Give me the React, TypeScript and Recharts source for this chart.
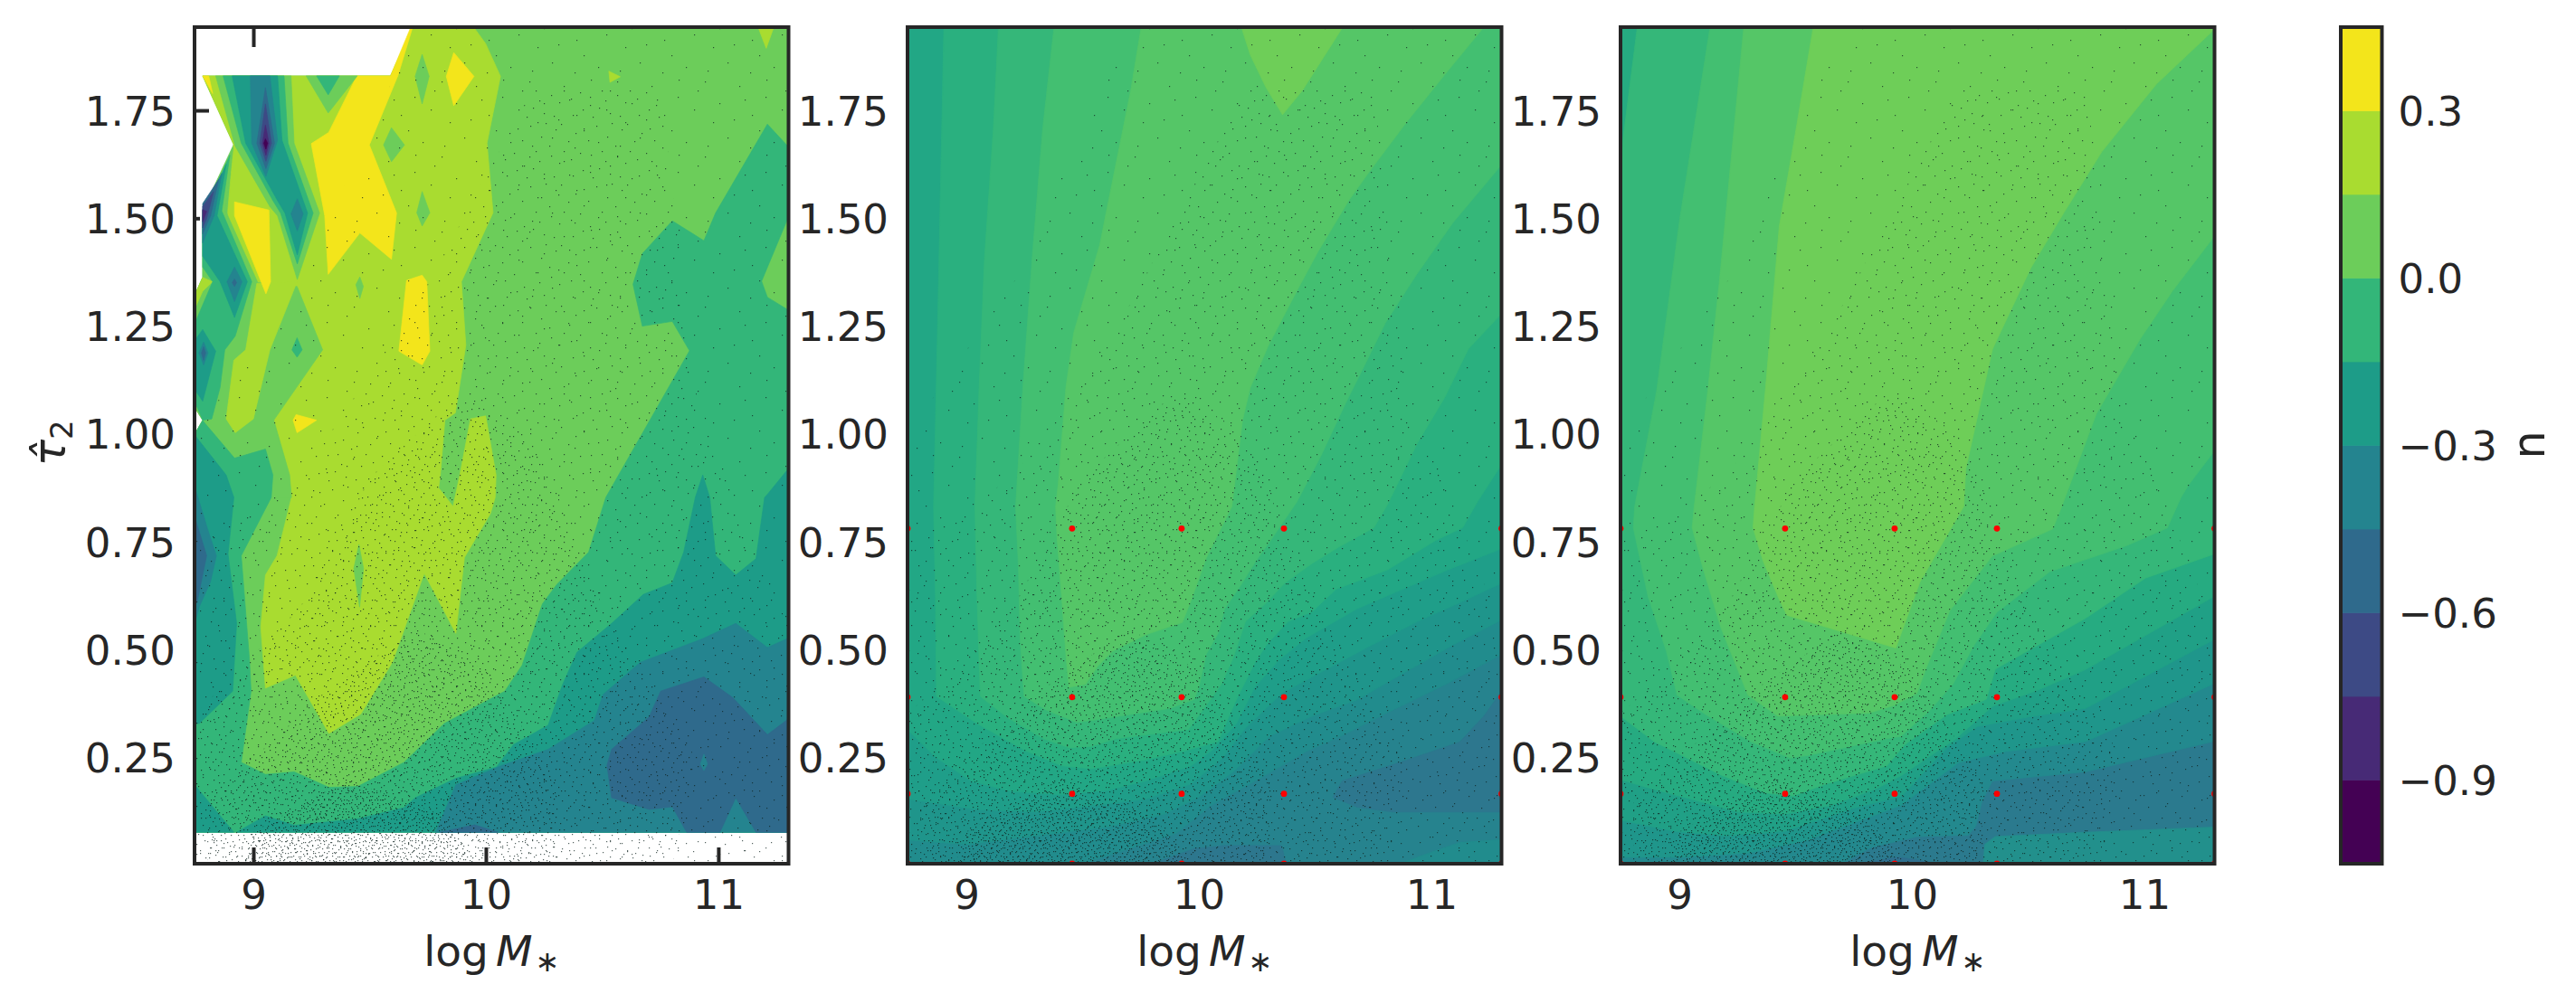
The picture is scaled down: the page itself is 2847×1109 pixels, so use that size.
import React from "react";
import { ScatterChart, Scatter, XAxis, YAxis, Polygon } from "recharts";

type Pt = [number, number];
type Layer = [Pt[], string];

const X_MIN = 8.745;
const X_MAX = 11.3;
const Y_MIN = 0.005;
const Y_MAX = 1.944;
const xTicks = [9, 10, 11];
const yTicks = [0.25, 0.5, 0.75, 1, 1.25, 1.5, 1.75];
const barTicks = [-0.9, -0.6, -0.3, 0, 0.3];
const barLevels = [-1.05, -0.9, -0.75, -0.6, -0.45, -0.3, -0.15, 0, 0.15, 0.3, 0.45];

// colorbar bins, dark to light
const V = ["#440154", "#472a76", "#3d4a85", "#2f6a8c", "#24848f", "#1d9c88", "#33b679", "#6ccd5a", "#a9dc30", "#f3e51b"];
// finer bins used by the two model panels, light to dark
const C = ["#6ece58", "#55c667", "#43bf71", "#35b779", "#2ab07f", "#22a785", "#1f9e89", "#1f958b", "#218c8d", "#26838e", "#2d778e"];

const redX = [8.745, 9.453, 9.924, 10.364, 11.3];
const redY = [0.005, 0.167, 0.391, 0.782, 1.95];

// ---- left panel contours (log M, tau) ----
const p1Base: Pt[] = [[9.679,1.94],[11.3,1.944],[11.3,0.078],[8.745,0.078],[8.745,1.0],[8.78,1.033],[8.745,1.063],[8.745,1.322],[8.78,1.364],[8.78,1.518],[8.913,1.672],[8.78,1.831],[9.588,1.831]];
const p1Lime: Pt[] = [[9.681,1.94],[9.951,1.94],[9.997,1.906],[10.061,1.83],[10.003,1.675],[10.029,1.514],[9.893,1.354],[9.912,1.207],[9.867,1.05],[9.822,1.033],[9.802,0.906],[9.795,0.876],[9.857,0.833],[9.886,0.906],[9.932,1.036],[9.997,1.043],[10.042,0.906],[10.038,0.854],[10.018,0.817],[9.906,0.715],[9.869,0.539],[9.733,0.678],[9.596,0.472],[9.46,0.352],[9.323,0.307],[9.179,0.442],[9.05,0.412],[9.03,0.554],[9.05,0.674],[9.1,0.719],[9.162,0.854],[9.154,0.906],[9.086,1.033],[8.888,1.018],[8.888,1.518],[8.913,1.672],[8.78,1.831],[9.588,1.831]];
const p1Left: Pt[] = [[8.911,1.665],[8.879,1.518],[9.017,1.352],[9.186,1.343],[9.296,1.196],[9.086,1.033],[9.154,0.906],[9.162,0.854],[8.745,0.854],[8.745,1.0],[8.78,1.033],[8.745,1.063],[8.745,1.322],[8.78,1.364],[8.78,1.518]];
const p1Strip: Pt[] = [[9.013,1.35],[9.186,1.354],[9.069,1.196],[8.998,1.036],[8.92,1.004],[8.881,1.036],[8.914,1.172],[8.965,1.196]];
const p1Wedge: Pt[] = [[8.78,1.364],[8.823,1.354],[8.78,1.332],[8.745,1.29],[8.745,1.322]];
const p1LowG: Pt[] = [[8.78,1.032],[8.917,0.945],[9.05,0.966],[9.082,0.906],[9.075,0.854],[8.946,0.719],[8.981,0.48],[8.988,0.405],[8.946,0.24],[9.05,0.212],[9.174,0.218],[9.323,0.182],[9.447,0.184],[9.646,0.24],[9.819,0.33],[10.08,0.405],[10.154,0.465],[10.241,0.607],[10.303,0.652],[10.44,0.727],[10.514,0.854],[10.874,1.194],[10.8,1.262],[10.671,1.251],[10.631,1.348],[10.671,1.419],[10.8,1.495],[10.936,1.449],[10.986,1.513],[11.209,1.719],[11.3,1.666],[11.3,1.505],[11.184,1.355],[11.209,1.318],[11.3,1.288],[11.3,0.078],[8.745,0.078],[8.745,1.0]];
const p1LowT: Pt[] = [[10.931,0.906],[10.899,0.854],[10.849,0.727],[10.8,0.656],[10.675,0.629],[10.539,0.562],[10.39,0.495],[10.328,0.42],[10.266,0.326],[10.117,0.281],[10.043,0.229],[9.869,0.203],[9.695,0.158],[9.646,0.135],[9.447,0.109],[9.174,0.094],[9.05,0.116],[8.926,0.078],[11.3,0.078],[11.3,0.921],[11.209,0.861],[11.197,0.854],[11.16,0.712],[11.073,0.674],[10.986,0.719],[10.961,0.854]];
const p1Corner: Pt[] = [[8.745,0.188],[8.914,0.078],[8.745,0.078]];
const p1EdgeT: Pt[] = [[8.745,0.999],[8.881,0.906],[8.914,0.854],[8.889,0.723],[8.926,0.562],[8.909,0.405],[8.765,0.33],[8.745,0.33]];
const p1EdgeB: Pt[] = [[8.745,0.88],[8.802,0.779],[8.839,0.719],[8.814,0.659],[8.765,0.6],[8.745,0.56]];
const p1EdgeN: Pt[] = [[8.745,0.81],[8.797,0.719],[8.757,0.614],[8.745,0.6]];
const p1RightB: Pt[] = [[11.3,0.528],[11.209,0.506],[11.073,0.562],[10.924,0.525],[10.663,0.472],[10.502,0.397],[10.465,0.337],[10.266,0.27],[10.068,0.233],[9.869,0.188],[9.782,0.078],[11.3,0.078]];
const p1RightN: Pt[] = [[11.3,0.341],[11.209,0.304],[11.06,0.39],[10.936,0.438],[10.75,0.405],[10.7,0.345],[10.539,0.27],[10.519,0.233],[10.539,0.158],[10.7,0.131],[10.8,0.137],[10.862,0.078],[11.005,0.078],[11.073,0.158],[11.16,0.078],[11.3,0.078]];
const p1Nick: Pt[] = [[10.936,0.259],[10.951,0.236],[10.936,0.221],[10.921,0.236]];
const p1Foot: Pt[] = [[9.8,0.078],[9.95,0.095],[10.05,0.078]];
const p1Sliver: Pt[] = [[9.452,0.745],[9.472,0.689],[9.455,0.6],[9.43,0.689]];
const p1TipA: Pt[] = [[11.172,1.94],[11.234,1.94],[11.204,1.895]];
const p1TipB: Pt[] = [[10.527,1.842],[10.576,1.829],[10.532,1.816]];
const p1D1: Pt[] = [[9.724,1.881],[9.754,1.83],[9.724,1.766],[9.694,1.83]];
const p1D2: Pt[] = [[9.592,1.711],[9.648,1.671],[9.592,1.632],[9.558,1.671]];
const p1D3: Pt[] = [[9.724,1.563],[9.757,1.514],[9.724,1.483],[9.701,1.514]];
const p1D4: Pt[] = [[9.456,1.365],[9.471,1.343],[9.456,1.315],[9.439,1.347]];
const p1D5: Pt[] = [[9.186,1.224],[9.208,1.196],[9.186,1.179],[9.164,1.196]];
const p1Y1: Pt[] = [[9.443,1.831],[9.588,1.831],[9.672,1.94],[9.681,1.94],[9.62,1.832],[9.497,1.671],[9.614,1.513],[9.592,1.406],[9.456,1.467],[9.32,1.371],[9.305,1.507],[9.247,1.674],[9.322,1.7]];
const p1Y2: Pt[] = [[8.917,1.539],[9.065,1.52],[9.072,1.354],[9.052,1.326],[8.917,1.507]];
const p1Y3: Pt[] = [[9.86,1.885],[9.947,1.83],[9.86,1.762],[9.828,1.83]];
const p1Y4: Pt[] = [[9.657,1.357],[9.724,1.369],[9.744,1.354],[9.757,1.193],[9.724,1.161],[9.624,1.193]];
const p1Y5: Pt[] = [[9.182,1.046],[9.27,1.033],[9.186,1.004],[9.169,1.033]];
const p1Y6: Pt[] = [[8.78,1.831],[8.806,1.831],[8.823,1.79]];
const p1T7: Pt[] = [[8.836,1.831],[9.16,1.831],[9.173,1.675],[9.283,1.513],[9.187,1.359],[9.102,1.507],[9.069,1.528],[8.92,1.668]];
const p1T6: Pt[] = [[8.868,1.831],[9.13,1.831],[9.147,1.675],[9.255,1.513],[9.187,1.395],[9.115,1.513],[9.082,1.542],[8.946,1.675]];
const p1T5: Pt[] = [[8.907,1.831],[9.102,1.831],[9.121,1.682],[9.231,1.513],[9.187,1.416],[9.134,1.513],[9.102,1.542],[8.965,1.675]];
const p1T4: Pt[] = [[8.985,1.831],[9.069,1.831],[9.102,1.682],[9.052,1.598],[8.991,1.675]];
const p1T3: Pt[] = [[9.05,1.804],[9.089,1.675],[9.052,1.616],[9.013,1.675]];
const p1T2: Pt[] = [[9.05,1.766],[9.076,1.675],[9.052,1.633],[9.026,1.675]];
const p1T1: Pt[] = [[9.05,1.717],[9.065,1.675],[9.052,1.647],[9.037,1.675]];
const p1T0: Pt[] = [[9.05,1.685],[9.059,1.675],[9.052,1.661],[9.043,1.675]];
const p1T4b: Pt[] = [[9.187,1.546],[9.212,1.511],[9.187,1.472],[9.16,1.511]];
const p1W7: Pt[] = [[9.225,1.831],[9.445,1.831],[9.32,1.745]];
const p1W6: Pt[] = [[9.27,1.831],[9.368,1.831],[9.32,1.787]];
const p1S6: Pt[] = [[8.897,1.647],[8.862,1.518],[8.991,1.354],[8.92,1.228],[8.875,1.196],[8.855,1.109],[8.819,1.036],[8.78,1.033],[8.745,1.077],[8.745,1.256],[8.823,1.354],[8.78,1.388],[8.78,1.507]];
const p1S5: Pt[] = [[8.881,1.626],[8.842,1.507],[8.972,1.354],[8.917,1.271],[8.855,1.354],[8.78,1.413],[8.78,1.493]];
const p1S4: Pt[] = [[8.862,1.605],[8.829,1.507],[8.78,1.444],[8.78,1.521]];
const p1S3: Pt[] = [[8.849,1.591],[8.814,1.507],[8.78,1.465],[8.78,1.535]];
const p1S2: Pt[] = [[8.827,1.563],[8.797,1.5],[8.78,1.479],[8.78,1.528]];
const p1S1: Pt[] = [[8.78,1.521],[8.797,1.517],[8.78,1.493]];
const p1Da4: Pt[] = [[8.917,1.388],[8.949,1.354],[8.917,1.308],[8.885,1.354]];
const p1Da3: Pt[] = [[8.917,1.36],[8.926,1.352],[8.917,1.343],[8.907,1.352]];
const p1Db5: Pt[] = [[8.78,1.243],[8.836,1.193],[8.78,1.077],[8.745,1.105],[8.745,1.217]];
const p1Db4: Pt[] = [[8.784,1.214],[8.803,1.189],[8.784,1.161],[8.764,1.189]];
const p1Db3: Pt[] = [[8.784,1.203],[8.793,1.189],[8.784,1.172],[8.775,1.189]];

// ---- middle panel contours ----
const fullRect: Pt[] = [[X_MIN,Y_MAX],[X_MIN,Y_MIN],[X_MAX,Y_MIN],[X_MAX,Y_MAX]];
const p2L8: Pt[] = [[8.745,1.944],[8.745,0.005],[9.5,0.005],[9.7,0.04],[9.9,0.075],[10.05,0.14],[10.29,0.212],[10.459,0.265],[10.614,0.302],[10.809,0.355],[11.068,0.423],[11.3,0.49],[11.3,1.944]];
const p2L7: Pt[] = [[8.745,1.944],[8.745,0.06],[9.0,0.05],[9.3,0.07],[9.6,0.09],[9.85,0.12],[10.0,0.16],[10.15,0.22],[10.3,0.3],[10.485,0.347],[10.679,0.385],[10.899,0.453],[11.094,0.513],[11.3,0.57],[11.3,1.944]];
const p2L6: Pt[] = [[8.745,1.944],[8.745,0.155],[8.87,0.145],[9.05,0.13],[9.3,0.125],[9.55,0.14],[9.771,0.155],[9.965,0.19],[10.1,0.25],[10.2,0.32],[10.355,0.4],[10.51,0.445],[10.718,0.505],[10.938,0.566],[11.12,0.61],[11.3,0.655],[11.3,1.944]];
const p2L5: Pt[] = [[8.745,1.944],[8.745,0.316],[8.863,0.253],[9.018,0.197],[9.187,0.173],[9.4,0.165],[9.6,0.175],[9.771,0.197],[9.965,0.232],[10.06,0.27],[10.16,0.33],[10.238,0.414],[10.342,0.477],[10.459,0.528],[10.679,0.596],[10.874,0.641],[11.068,0.686],[11.3,0.735],[11.3,1.944]];
const p2L4: Pt[] = [[8.901,1.944],[8.88,1.4],[8.857,0.833],[8.865,0.623],[8.869,0.393],[9.044,0.33],[9.252,0.267],[9.408,0.232],[9.537,0.225],[9.771,0.246],[9.94,0.267],[10.08,0.288],[10.16,0.386],[10.238,0.47],[10.29,0.513],[10.381,0.566],[10.485,0.589],[10.588,0.641],[10.809,0.686],[11.016,0.754],[11.133,0.784],[11.198,0.845],[11.3,0.93],[11.3,1.944]];
const p2L3: Pt[] = [[9.136,1.944],[9.114,1.707],[9.076,1.408],[9.053,1.108],[9.035,0.833],[9.044,0.623],[9.058,0.393],[9.174,0.344],[9.33,0.295],[9.44,0.274],[9.537,0.277],[9.641,0.295],[9.952,0.316],[10.03,0.372],[10.095,0.421],[10.147,0.484],[10.199,0.567],[10.29,0.611],[10.368,0.656],[10.485,0.701],[10.6,0.739],[10.751,0.784],[10.809,0.837],[10.938,0.98],[11.055,1.085],[11.157,1.198],[11.3,1.28],[11.3,1.944]];
const p2L2: Pt[] = [[9.375,1.944],[9.326,1.707],[9.281,1.408],[9.241,1.108],[9.21,0.833],[9.222,0.693],[9.23,0.519],[9.246,0.393],[9.343,0.361],[9.472,0.333],[9.537,0.337],[9.874,0.365],[9.978,0.386],[9.998,0.414],[10.03,0.491],[10.082,0.54],[10.108,0.595],[10.179,0.651],[10.244,0.707],[10.309,0.756],[10.42,0.844],[10.523,0.95],[10.627,1.07],[10.718,1.168],[10.8,1.258],[10.934,1.37],[11.09,1.49],[11.3,1.625],[11.3,1.944]];
const p2L1: Pt[] = [[9.75,1.944],[9.705,1.797],[9.638,1.618],[9.571,1.438],[9.46,1.236],[9.426,1.108],[9.393,0.884],[9.382,0.833],[9.388,0.763],[9.408,0.623],[9.427,0.484],[9.44,0.414],[9.511,0.421],[9.563,0.463],[9.628,0.498],[9.771,0.536],[9.927,0.564],[9.965,0.616],[10.03,0.714],[10.14,0.833],[10.186,1.033],[10.219,1.108],[10.297,1.206],[10.42,1.333],[10.51,1.423],[10.644,1.543],[10.733,1.61],[10.889,1.722],[11.068,1.842],[11.224,1.944]];
const p2L0: Pt[] = [[10.181,1.944],[10.219,1.88],[10.286,1.805],[10.358,1.741],[10.443,1.797],[10.617,1.944]];
const p2Pocket: Pt[] = [[9.8,0.005],[9.978,0.04],[10.108,0.047],[10.354,0.047],[10.374,0.005]];
const p2PocketR: Pt[] = [[11.3,0.405],[11.224,0.347],[11.12,0.287],[10.875,0.242],[10.614,0.197],[10.575,0.159],[10.679,0.136],[10.83,0.125],[11.3,0.125]];
const p2Corner: Pt[] = [[11.3,0.061],[11.12,0.054],[10.99,0.03],[10.86,0.005],[11.3,0.005]];

// ---- right panel contours ----
const p3L7: Pt[] = [[8.745,1.944],[8.745,0.005],[9.695,0.005],[9.825,0.043],[10.02,0.068],[10.24,0.071],[10.273,0.092],[10.299,0.148],[10.344,0.197],[10.746,0.218],[11.3,0.289],[11.3,1.944]];
const p3L6: Pt[] = [[8.745,1.944],[8.745,0.02],[9.0,0.02],[9.3,0.03],[9.55,0.06],[9.75,0.1],[9.95,0.14],[10.1,0.2],[10.2,0.24],[10.4,0.265],[10.746,0.288],[11.3,0.423],[11.3,1.944]];
const p3L5: Pt[] = [[8.745,1.944],[8.745,0.106],[8.98,0.08],[9.2,0.07],[9.45,0.08],[9.75,0.134],[9.955,0.162],[10.149,0.274],[10.28,0.323],[10.5,0.345],[10.746,0.365],[11.3,0.525],[11.3,1.944]];
const p3L4: Pt[] = [[8.745,1.944],[8.745,0.2],[8.85,0.183],[9.046,0.155],[9.25,0.125],[9.45,0.12],[9.65,0.14],[9.85,0.18],[9.955,0.21],[10.188,0.295],[10.345,0.37],[10.539,0.407],[10.746,0.455],[11.3,0.625],[11.3,1.944]];
const p3L3: Pt[] = [[8.817,1.944],[8.757,1.69],[8.745,1.6],[8.745,0.347],[8.89,0.288],[9.02,0.253],[9.176,0.211],[9.37,0.169],[9.487,0.162],[9.63,0.19],[9.89,0.232],[9.968,0.281],[10.15,0.351],[10.318,0.386],[10.357,0.456],[10.565,0.519],[10.746,0.574],[11.003,0.667],[11.3,0.723],[11.3,1.944]];
const p3L2: Pt[] = [[9.13,1.944],[9.0,1.5],[8.9,1.1],[8.806,0.833],[8.8,0.784],[8.864,0.623],[8.942,0.498],[8.988,0.396],[9.111,0.351],[9.306,0.288],[9.474,0.25],[9.552,0.256],[9.89,0.295],[9.95,0.3],[10.071,0.358],[10.175,0.421],[10.266,0.512],[10.364,0.588],[10.592,0.682],[10.921,0.742],[11.097,0.783],[11.156,0.854],[11.19,0.884],[11.3,0.962],[11.3,1.944]];
const p3L1: Pt[] = [[9.275,1.944],[9.169,1.348],[9.12,1.1],[9.062,0.833],[9.053,0.784],[9.098,0.693],[9.176,0.553],[9.293,0.396],[9.422,0.347],[9.812,0.354],[9.922,0.372],[10.02,0.4],[10.058,0.456],[10.162,0.592],[10.344,0.718],[10.604,0.781],[10.643,0.833],[10.792,1.048],[10.98,1.221],[11.12,1.333],[11.3,1.46],[11.3,1.944]];
const p3L0: Pt[] = [[9.574,1.944],[9.5,1.707],[9.428,1.483],[9.369,1.108],[9.322,0.833],[9.315,0.784],[9.358,0.707],[9.429,0.616],[9.461,0.581],[9.929,0.505],[10.033,0.658],[10.221,0.833],[10.23,0.92],[10.345,1.198],[10.509,1.385],[10.651,1.513],[10.815,1.655],[11.05,1.812],[11.286,1.932],[11.3,1.944]];
const p3Corner: Pt[] = [[10.305,0.005],[10.312,0.05],[10.357,0.068],[10.746,0.078],[11.3,0.09],[11.3,0.005]];
const p3Pocket: Pt[] = [[9.757,0.005],[9.945,0.02],[10.11,0.005]];

// where the sample dots get denser, same sample in every panel
const dotZone1: Pt[] = [[9.7,1.944],[11.3,1.944],[11.3,0.005],[8.745,0.005],[8.745,1.0],[9.2,1.35]];
const dotZone2: Pt[] = [[8.745,0.005],[11.3,0.005],[11.3,0.55],[10.9,1.1],[10.75,1.8],[10.2,1.8],[9.7,1.3],[9.2,0.9],[8.745,0.75]];
const dotZone3: Pt[] = [[8.745,0.005],[10.8,0.005],[10.9,0.25],[10.5,0.6],[10.2,1.0],[9.9,1.1],[9.5,0.9],[9.2,0.6],[8.745,0.35]];
const dotZone4: Pt[] = [[8.8,0.005],[10.3,0.005],[10.3,0.2],[10.0,0.45],[9.7,0.55],[9.3,0.4],[8.8,0.15]];
const dotZone5: Pt[] = [[8.95,0.005],[9.95,0.005],[9.8,0.12],[9.4,0.2],[9.0,0.08]];

const panel1: Layer[] = [
  [p1Base, V[7]], [p1Lime, V[8]], [p1Left, V[7]], [p1Strip, V[8]], [p1Wedge, V[8]],
  [p1LowG, V[6]], [p1LowT, V[5]], [p1Corner, V[5]], [p1EdgeT, V[5]], [p1EdgeB, V[4]], [p1EdgeN, V[3]],
  [p1RightB, V[4]], [p1RightN, V[3]], [p1Nick, V[4]], [p1Foot, V[3]],
  [p1Sliver, V[7]], [p1TipA, V[8]], [p1TipB, V[8]],
  [p1D1, V[7]], [p1D2, V[7]], [p1D3, V[7]], [p1D4, V[7]], [p1D5, V[6]],
  [p1Y1, V[9]], [p1Y2, V[9]], [p1Y3, V[9]], [p1Y4, V[9]], [p1Y5, V[9]], [p1Y6, V[9]],
  [p1T7, V[7]], [p1T6, V[6]], [p1T5, V[5]], [p1T4, V[4]], [p1T3, V[3]], [p1T2, V[2]], [p1T1, V[1]], [p1T0, V[0]], [p1T4b, V[4]],
  [p1W7, V[7]], [p1W6, V[6]],
  [p1S6, V[6]], [p1S5, V[5]], [p1S4, V[4]], [p1S3, V[3]], [p1S2, V[2]], [p1S1, V[1]],
  [p1Da4, V[4]], [p1Da3, V[3]], [p1Db5, V[5]], [p1Db4, V[4]], [p1Db3, V[3]],
];

const panel2: Layer[] = [
  [fullRect, C[9]], [p2L8, C[8]], [p2L7, C[7]], [p2L6, C[6]], [p2L5, C[5]], [p2L4, C[4]], [p2L3, C[3]], [p2L2, C[2]], [p2L1, C[1]], [p2L0, C[0]],
  [p2Pocket, C[10]], [p2PocketR, C[10]], [p2Corner, C[8]],
];

const panel3: Layer[] = [
  [fullRect, "#2b7a8e"], [p3L7, "#23898e"], [p3L6, "#1f968b"], [p3L5, "#20a086"], [p3L4, "#26ab81"], [p3L3, C[3]],
  [p3L2, C[2]], [p3L1, C[1]], [p3L0, C[0]],
  [p3Corner, "#22908c"], [p3Pocket, "#2f6f8e"],
];

const dotZones: [Pt[], string][] = [
  [dotZone1, "url(#stipA)"], [dotZone2, "url(#stipB)"], [dotZone3, "url(#stipC)"], [dotZone4, "url(#stipD)"], [dotZone5, "url(#stipE)"],
];

// The real plot has too many single sample dots to read one by one, so the speckle is a
// hatch texture clipped to the density zones above, not a plotted series.
const stipples: [string, number, number, number[][]][] = [
  ["stipA", 97, 83, [[3,7],[19,31],[41,12],[55,44],[28,69],[47,27],[71,5],[88,38],[63,61],[12,52],[79,74],[35,49],[92,17],[6,78],[53,80],[70,24]]],
  ["stipB", 73, 67, [[2,5],[14,17],[30,9],[8,33],[23,27],[34,46],[19,2],[5,52],[44,22],[61,8],[57,35],[68,49],[49,60],[28,61],[12,44],[39,33],[66,21],[52,13],[17,58],[71,62],[36,3],[47,42],[25,38],[60,54]]],
  ["stipC", 59, 53, [[1,3],[11,8],[24,2],[6,17],[18,14],[27,22],[13,26],[3,28],[21,29],[36,5],[47,11],[55,2],[33,16],[42,21],[52,19],[38,31],[49,28],[31,37],[9,36],[17,41],[2,44],[25,46],[44,39],[56,36],[36,48],[50,47],[14,50],[5,51],[29,9],[57,27],[40,43],[22,35],[8,22],[45,3],[53,42],[34,26]]],
  ["stipD", 43, 47, [[2,1],[9,6],[17,3],[5,12],[13,10],[20,15],[1,17],[11,16],[16,8],[25,2],[31,7],[38,4],[27,12],[35,14],[41,10],[23,20],[30,19],[37,22],[7,22],[15,24],[3,27],[11,30],[19,29],[26,26],[33,28],[40,30],[6,35],[14,37],[22,34],[29,36],[36,38],[42,18],[1,41],[9,43],[17,44],[24,41],[32,44],[39,42],[4,6],[21,38]]],
  ["stipE", 31, 29, [[1,2],[7,1],[13,4],[4,7],[10,6],[15,10],[2,11],[8,10],[19,1],[25,3],[29,6],[21,7],[17,14],[26,10],[22,13],[29,15],[5,15],[11,14],[1,19],[8,19],[14,18],[20,19],[26,18],[3,23],[10,24],[16,22],[23,23],[28,24],[6,27],[13,27],[19,26],[25,28],[30,21],[12,1],[17,5],[1,26]]],
];

// tick marks sit under the contours in the reference, so only those over the blank areas of the left panel show
const p1BottomMarks = [9, 10, 11];
const p1TopMarks = [9];
const p1LeftMarks: [number, number][] = [[1.75, 18], [1.5, 8]];

const font = "'DejaVu Sans', sans-serif";
const ink = "#262626";
const noDot = () => <g />;
const rowsOf = (pts: Pt[]) => pts.map(([x, y]) => ({ x, y }));
const redRows = redY.flatMap((y) => redX.map((x) => ({ x, y })));

function area(pts: Pt[], fill: string, key: string) {
  return (
    <Scatter
      key={key}
      data={rowsOf(pts)}
      isAnimationActive={false}
      shape={noDot}
      legendType="none"
      line={(p: any) => <Polygon points={p.points} fill={fill} stroke={fill} strokeWidth={0.7} />}
    />
  );
}

function Panel({ layers, left, axisWidth, red, marks, yLabel, width }: { layers: Layer[]; left: number; axisWidth: number; red?: boolean; marks?: boolean; yLabel?: boolean; width: number }) {
  const plotW = 656.5;
  const plotH = 925;
  return (
    <div style={{ position: "absolute", left, top: 0 }}>
      <ScatterChart width={width} height={1109} margin={{ top: 30, right: width - axisWidth - plotW, bottom: 0, left: 0 }}>
        <XAxis
          type="number"
          dataKey="x"
          domain={[X_MIN, X_MAX]}
          ticks={xTicks}
          allowDataOverflow
          height={154}
          tickSize={0}
          axisLine={false}
          interval={0}
          tick={(t: any) => (
            <g>
              {marks && p1BottomMarks.includes(t.payload.value) && <line x1={t.x} x2={t.x} y1={t.y - 20} y2={t.y} stroke={ink} strokeWidth={4} />}
              {marks && p1TopMarks.includes(t.payload.value) && <line x1={t.x} x2={t.x} y1={t.y - plotH} y2={t.y - plotH + 20} stroke={ink} strokeWidth={4} />}
              <text x={t.x} y={t.y + 48} textAnchor="middle" fontSize={45} fontFamily={font} fill={ink}>{t.payload.value}</text>
            </g>
          )}
          label={{
            content: (p: any) => {
              const cx = p.viewBox.x + p.viewBox.width / 2;
              return (
                <text x={cx} y={1068} textAnchor="middle" fontSize={47} fontFamily={font} fill={ink}>
                  log<tspan fontStyle="italic" dx={8}>M</tspan><tspan fontSize={32} dx={3} dy={6}>{"\u2217"}</tspan>
                </text>
              );
            },
          }}
        />
        <YAxis
          type="number"
          dataKey="y"
          domain={[Y_MIN, Y_MAX]}
          ticks={yTicks}
          allowDataOverflow
          width={axisWidth}
          tickSize={0}
          axisLine={false}
          interval={0}
          tick={(t: any) => {
            const mark = marks ? p1LeftMarks.find(([v]) => v === t.payload.value) : undefined;
            return (
              <g>
                {mark && <line x1={t.x} x2={t.x + mark[1]} y1={t.y} y2={t.y} stroke={ink} strokeWidth={4} />}
                <text x={t.x - 19} y={t.y + 16} textAnchor="end" fontSize={45} fontFamily={font} fill={ink}>{t.payload.value.toFixed(2)}</text>
              </g>
            );
          }}
          label={
            yLabel
              ? {
                  content: () => (
                    <text transform="translate(72,490) rotate(-90)" textAnchor="middle" fontSize={49} fontFamily={font} fill={ink}>
                      <tspan fontStyle="italic">{"\u03C4\u0302"}</tspan><tspan fontSize={34} dy={8}>2</tspan>
                    </text>
                  ),
                }
              : undefined
          }
        />
        <XAxis xAxisId="frame" type="number" dataKey="x" domain={[X_MIN, X_MAX]} hide />
        <YAxis yAxisId="frame" type="number" dataKey="y" domain={[Y_MIN, Y_MAX]} hide />
        {layers.map(([pts, fill], i) => area(pts, fill, `c${i}`))}
        {dotZones.map(([pts, fill], i) => (
          <Scatter
            key={`z${i}`}
            data={rowsOf(pts)}
            isAnimationActive={false}
            shape={noDot}
            legendType="none"
            line={(p: any) => <Polygon points={p.points} fill={fill} stroke="none" />}
          />
        ))}
        {red && (
          <Scatter
            data={redRows}
            isAnimationActive={false}
            legendType="none"
            shape={(p: any) => <circle cx={p.cx} cy={p.cy} r={3.4} fill="#ff0000" />}
          />
        )}
        <Scatter
          xAxisId="frame"
          yAxisId="frame"
          data={rowsOf(fullRect)}
          isAnimationActive={false}
          shape={noDot}
          legendType="none"
          line={(p: any) => <Polygon points={p.points} fill="none" stroke={ink} strokeWidth={4} />}
        />
      </ScatterChart>
    </div>
  );
}

function ColorBar() {
  const corners: Pt[] = [[0, -1.05], [1, -1.05], [1, 0.45], [0, 0.45]];
  return (
    <div style={{ position: "absolute", left: 2577, top: 0 }}>
      <ScatterChart width={270} height={1109} margin={{ top: 30, right: 0, bottom: 154, left: 10 }}>
        <XAxis type="number" dataKey="x" domain={[0, 1]} hide />
        <YAxis
          type="number"
          dataKey="y"
          orientation="right"
          domain={[-1.05, 0.45]}
          ticks={barTicks}
          width={214.5}
          tickSize={0}
          axisLine={false}
          interval={0}
          tick={(t: any) => (
            <text x={t.x + 16} y={t.y + 16} textAnchor="start" fontSize={45} fontFamily={font} fill={ink}>
              {t.payload.value.toFixed(1).replace("-", "\u2212")}
            </text>
          )}
          label={{
            content: () => (
              <text transform="translate(235,492) rotate(-90)" textAnchor="middle" fontSize={49} fontFamily={font} fill={ink}>n</text>
            ),
          }}
        />
        {barLevels.slice(0, -1).map((lo, i) =>
          area([[0, lo], [1, lo], [1, barLevels[i + 1]], [0, barLevels[i + 1]]], V[i], `b${i}`)
        )}
        <Scatter
          data={rowsOf(corners)}
          isAnimationActive={false}
          shape={noDot}
          legendType="none"
          line={(p: any) => <Polygon points={p.points} fill="none" stroke={ink} strokeWidth={4} />}
        />
      </ScatterChart>
    </div>
  );
}

export default function App() {
  return (
    <div style={{ position: "absolute", left: 0, top: 0, width: 2847, height: 1109, background: "#fff" }}>
      <svg width={0} height={0} style={{ position: "absolute" }}>
        <defs>
          {stipples.map(([id, w, h, dots]) => (
            <pattern key={id} id={id} width={w} height={h} patternUnits="userSpaceOnUse">
              {dots.map(([x, y]) => (
                <rect key={`${x}-${y}`} x={x} y={y} width={1.2} height={1.2} fill="#0b1f1c" fillOpacity={0.7} />
              ))}
            </pattern>
          ))}
        </defs>
      </svg>
      <Panel layers={panel1} left={0} axisWidth={215} marks yLabel width={885} />
      <Panel layers={panel2} left={863} axisWidth={140} red width={810} />
      <Panel layers={panel3} left={1651} axisWidth={140} red width={810} />
      <ColorBar />
    </div>
  );
}
